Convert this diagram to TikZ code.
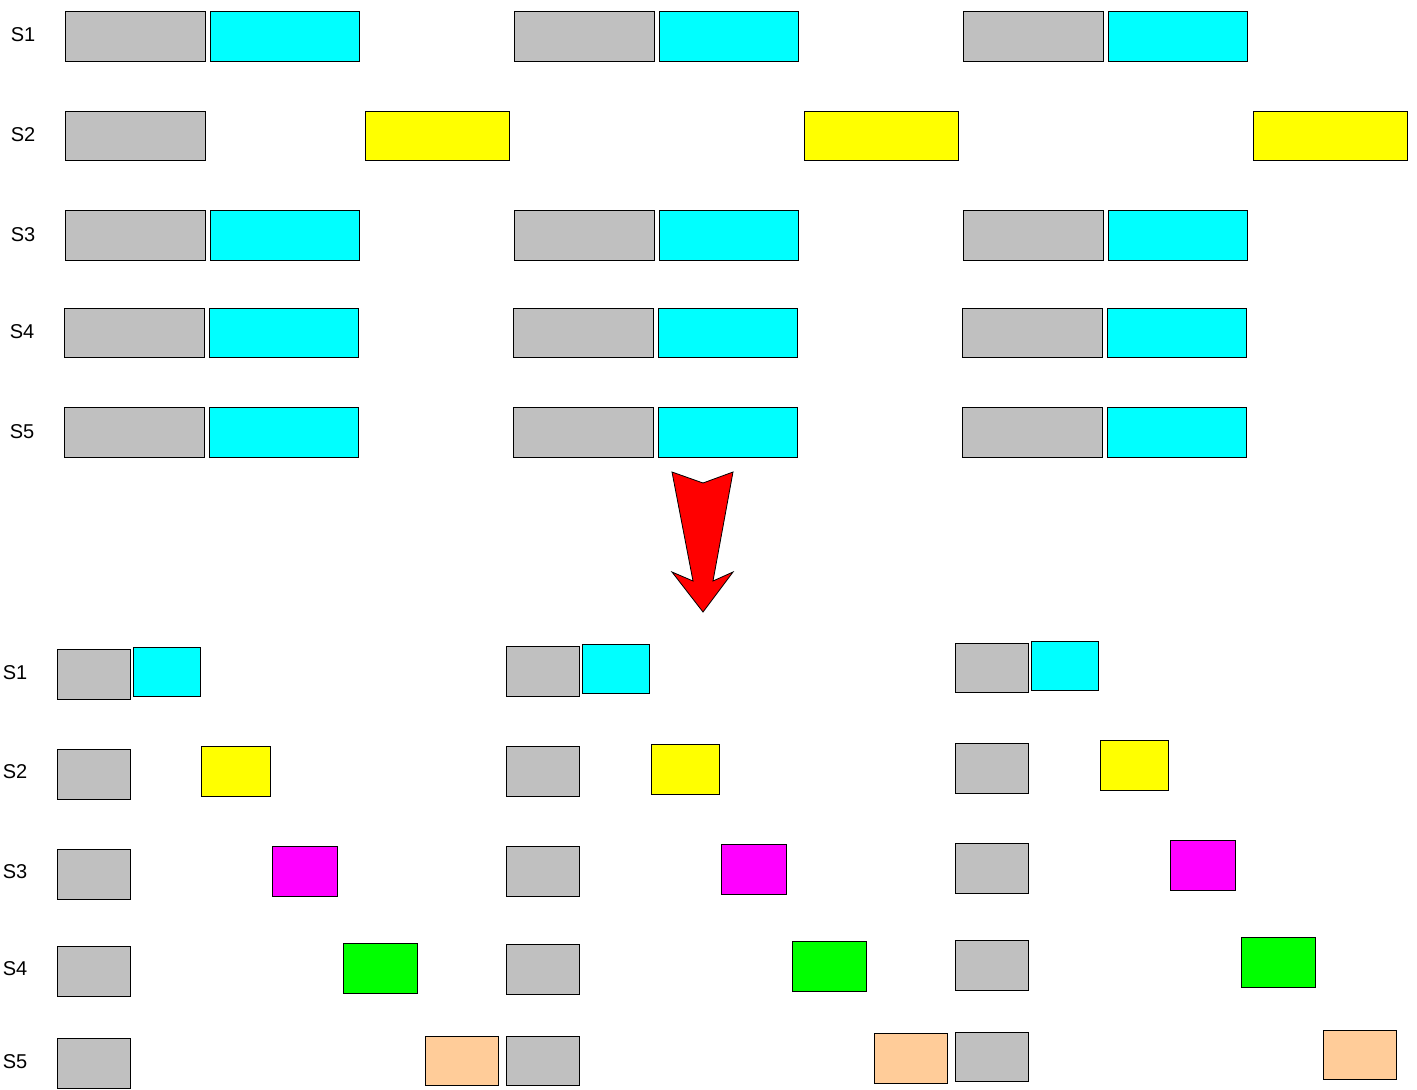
\documentclass[tikz,border=0pt]{standalone}
\usepackage{fontspec}
\setmainfont{Liberation Sans}
\definecolor{cgray}{HTML}{C0C0C0}
\definecolor{ccyan}{HTML}{00FFFF}
\definecolor{cyell}{HTML}{FFFF00}
\definecolor{cmag}{HTML}{FF00FF}
\definecolor{cgreen}{HTML}{00FF00}
\definecolor{cpeach}{HTML}{FFCC99}
\definecolor{cred}{HTML}{FF0000}
\newcommand\mybox[6]{\node[bx, fill=#2, minimum width={(#5-#3)*1pt}, minimum height={(#6-#4)*1pt}] (#1) at (#3,#4) {};}
\begin{document}
\begin{tikzpicture}[x=1pt,y=-1pt,
  bx/.style={draw=black, line width=1pt, anchor=north west, inner sep=0pt, outer sep=0pt, rectangle},
  lbl/.style={font=\fontsize{20}{24}\selectfont, inner sep=0pt}]
\useasboundingbox (0,0) rectangle (1417,1090);
% ---------- top section ----------
\node[lbl] (tl1) at (23,35) {S1};
\node[lbl] (tl2) at (23,135) {S2};
\node[lbl] (tl3) at (23,235) {S3};
\node[lbl] (tl4) at (22,332) {S4};
\node[lbl] (tl5) at (22,432) {S5};
% S1
\mybox{ta1}{cgray}{65}{11}{205}{61}
\mybox{tb1}{ccyan}{210}{11}{359}{61}
\mybox{tc1}{cgray}{514}{11}{654}{61}
\mybox{td1}{ccyan}{659}{11}{798}{61}
\mybox{te1}{cgray}{963}{11}{1103}{61}
\mybox{tf1}{ccyan}{1108}{11}{1247}{61}
% S2
\mybox{ta2}{cgray}{65}{111}{205}{160}
\mybox{tb2}{cyell}{365}{111}{509}{160}
\mybox{tc2}{cyell}{804}{111}{958}{160}
\mybox{td2}{cyell}{1253}{111}{1407}{160}
% S3
\mybox{ta3}{cgray}{65}{210}{205}{260}
\mybox{tb3}{ccyan}{210}{210}{359}{260}
\mybox{tc3}{cgray}{514}{210}{654}{260}
\mybox{td3}{ccyan}{659}{210}{798}{260}
\mybox{te3}{cgray}{963}{210}{1103}{260}
\mybox{tf3}{ccyan}{1108}{210}{1247}{260}
% S4
\mybox{ta4}{cgray}{64}{308}{204}{357}
\mybox{tb4}{ccyan}{209}{308}{358}{357}
\mybox{tc4}{cgray}{513}{308}{653}{357}
\mybox{td4}{ccyan}{658}{308}{797}{357}
\mybox{te4}{cgray}{962}{308}{1102}{357}
\mybox{tf4}{ccyan}{1107}{308}{1246}{357}
% S5
\mybox{ta5}{cgray}{64}{407}{204}{457}
\mybox{tb5}{ccyan}{209}{407}{358}{457}
\mybox{tc5}{cgray}{513}{407}{653}{457}
\mybox{td5}{ccyan}{658}{407}{797}{457}
\mybox{te5}{cgray}{962}{407}{1102}{457}
\mybox{tf5}{ccyan}{1107}{407}{1246}{457}
% ---------- arrow ----------
\draw[fill=cred, draw=black, line width=0.8pt, line join=miter]
  (672,472) -- (703,483) -- (733,472) -- (713,581) -- (733,572) -- (703,612)
  -- (672,572) -- (693,581) -- cycle;
% ---------- bottom section ----------
\node[lbl] (bl1) at (15,673) {S1};
\node[lbl] (bl2) at (15,772) {S2};
\node[lbl] (bl3) at (15,872) {S3};
\node[lbl] (bl4) at (15,969) {S4};
\node[lbl] (bl5) at (15,1062) {S5};
% S1
\mybox{ba1}{cgray}{57}{649}{130}{699}
\mybox{bb1}{ccyan}{133}{647}{200}{696}
\mybox{bc1}{cgray}{506}{646}{579}{696}
\mybox{bd1}{ccyan}{582}{644}{649}{693}
\mybox{be1}{cgray}{955}{643}{1028}{692}
\mybox{bf1}{ccyan}{1031}{641}{1098}{690}
% S2
\mybox{ba2}{cgray}{57}{749}{130}{799}
\mybox{bb2}{cyell}{201}{746}{270}{796}
\mybox{bc2}{cgray}{506}{746}{579}{796}
\mybox{bd2}{cyell}{651}{744}{719}{794}
\mybox{be2}{cgray}{955}{743}{1028}{793}
\mybox{bf2}{cyell}{1100}{740}{1168}{790}
% S3
\mybox{ba3}{cgray}{57}{849}{130}{899}
\mybox{bb3}{cmag}{272}{846}{337}{896}
\mybox{bc3}{cgray}{506}{846}{579}{896}
\mybox{bd3}{cmag}{721}{844}{786}{894}
\mybox{be3}{cgray}{955}{843}{1028}{893}
\mybox{bf3}{cmag}{1170}{840}{1235}{890}
% S4
\mybox{ba4}{cgray}{57}{946}{130}{996}
\mybox{bb4}{cgreen}{343}{943}{417}{993}
\mybox{bc4}{cgray}{506}{944}{579}{994}
\mybox{bd4}{cgreen}{792}{941}{866}{991}
\mybox{be4}{cgray}{955}{940}{1028}{990}
\mybox{bf4}{cgreen}{1241}{937}{1315}{987}
% S5
\mybox{ba5}{cgray}{57}{1038}{130}{1088}
\mybox{bb5}{cpeach}{425}{1036}{498}{1085}
\mybox{bc5}{cgray}{506}{1036}{579}{1085}
\mybox{bd5}{cpeach}{874}{1033}{947}{1083}
\mybox{be5}{cgray}{955}{1032}{1028}{1081}
\mybox{bf5}{cpeach}{1323}{1030}{1396}{1079}
\end{tikzpicture}
\end{document}
